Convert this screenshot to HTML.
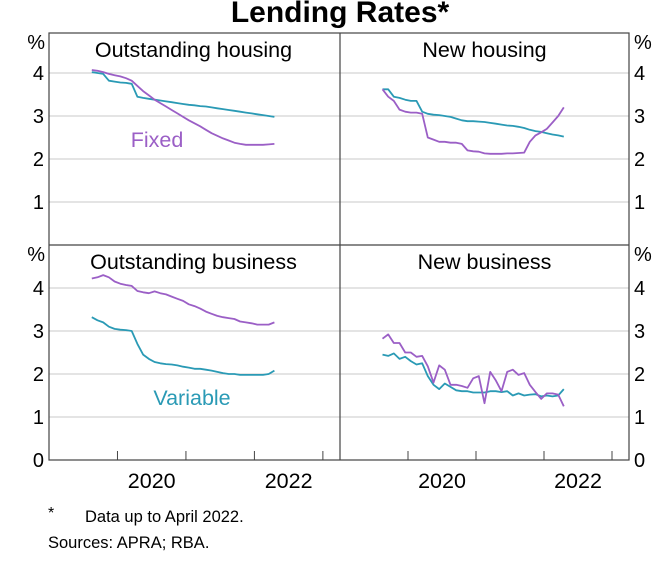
<!DOCTYPE html>
<html><head><meta charset="utf-8"><style>
body{margin:0;background:#fff;}
svg{display:block;font-family:"Liberation Sans",Arial,sans-serif;}
</style></head><body>
<svg id="chart" width="658" height="561" viewBox="0 0 658 561" xmlns="http://www.w3.org/2000/svg">
<text x="340" y="22" font-size="30" font-weight="bold" text-anchor="middle">Lending Rates*</text>
<g id="grid"></g>
<g id="series"></g>
<g id="frame"></g>
<text x="48" y="518" font-size="16">*</text>
<text x="85" y="522" font-size="16.5">Data up to April 2022.</text>
<text x="48" y="548" font-size="16.5">Sources: APRA; RBA.</text>
</svg>
<script>
const months = Array.from({length:33},(_,i)=>2019+7/12+i/12+1/24);
const ohFixed=[4.07,4.05,4.02,3.98,3.95,3.92,3.88,3.82,3.7,3.58,3.48,3.38,3.3,3.22,3.14,3.06,2.98,2.9,2.83,2.76,2.68,2.6,2.54,2.48,2.43,2.38,2.35,2.33,2.33,2.33,2.33,2.34,2.35];
const ohVar=[4.02,4.0,3.98,3.82,3.8,3.78,3.77,3.75,3.45,3.42,3.4,3.38,3.36,3.34,3.32,3.3,3.28,3.26,3.25,3.23,3.22,3.2,3.18,3.16,3.14,3.12,3.1,3.08,3.06,3.04,3.02,3.0,2.98];
const nhFixed=[3.62,3.45,3.35,3.15,3.1,3.08,3.08,3.05,2.5,2.45,2.4,2.4,2.38,2.38,2.35,2.2,2.18,2.17,2.13,2.12,2.12,2.12,2.13,2.13,2.14,2.15,2.4,2.55,2.62,2.7,2.85,3.0,3.2];
const nhVar=[3.62,3.62,3.45,3.42,3.38,3.35,3.35,3.1,3.05,3.03,3.02,3.0,2.98,2.94,2.9,2.88,2.88,2.87,2.86,2.84,2.82,2.8,2.78,2.77,2.75,2.72,2.68,2.65,2.63,2.6,2.57,2.55,2.52];
const obFixed=[4.22,4.25,4.3,4.25,4.15,4.1,4.07,4.05,3.93,3.9,3.88,3.92,3.88,3.85,3.8,3.75,3.7,3.62,3.58,3.52,3.45,3.4,3.35,3.32,3.3,3.28,3.22,3.2,3.18,3.15,3.15,3.15,3.2];
const obVar=[3.32,3.25,3.2,3.1,3.05,3.03,3.02,3.0,2.7,2.45,2.35,2.28,2.25,2.23,2.22,2.2,2.17,2.15,2.12,2.12,2.1,2.08,2.05,2.02,2.0,2.0,1.98,1.98,1.98,1.98,1.98,2.0,2.08];
const nbFixed=[2.82,2.92,2.72,2.72,2.5,2.5,2.4,2.42,2.18,1.8,2.2,2.1,1.75,1.75,1.72,1.68,1.9,1.95,1.32,2.05,1.85,1.6,2.05,2.1,1.98,2.02,1.75,1.58,1.42,1.55,1.55,1.52,1.25];
const nbVar=[2.45,2.42,2.48,2.35,2.4,2.3,2.22,2.25,1.95,1.75,1.65,1.78,1.7,1.62,1.6,1.6,1.57,1.57,1.57,1.6,1.6,1.58,1.6,1.5,1.55,1.5,1.52,1.53,1.48,1.5,1.48,1.5,1.65];
const yTicks=[0,1,2,3,4];
const xYearTicks=[2020,2021,2022,2023];
const xYearLabels=[2020,2022];

const NS="http://www.w3.org/2000/svg";
const PURPLE="#9b5fc6", TEAL="#2a9ab5";
function mk(parent,tag,attrs){const e=document.createElementNS(NS,tag);for(const k in attrs)e.setAttribute(k,attrs[k]);parent.appendChild(e);return e;}
const grid=document.getElementById('grid'),ser=document.getElementById('series'),frame=document.getElementById('frame');
const panels=[
 {name:'outstanding-housing',title:'Outstanding housing',x0:49,x1:340,y0:245,top:33,f:ohFixed,v:ohVar,left:true,right:false},
 {name:'new-housing',title:'New housing',x0:340,x1:629,y0:245,top:33,f:nhFixed,v:nhVar,left:false,right:true},
 {name:'outstanding-business',title:'Outstanding business',x0:49,x1:340,y0:460,top:245,f:obFixed,v:obVar,left:true,right:false},
 {name:'new-business',title:'New business',x0:340,x1:629,y0:460,top:245,f:nbFixed,v:nbVar,left:false,right:true}
];
const PX=43;
panels.forEach(p=>{
 const xs=t=>p.x0+(t-2019)*(p.x1-p.x0)/4.25;
 const ys=v=>p.y0-v*PX;
 yTicks.forEach(v=>{
  if(v>0){const g=mk(grid,'line',{x1:p.x0,x2:p.x1,y1:ys(v),y2:ys(v),stroke:'#c8c8c8','stroke-width':1});
   }
  const show = v>0 || p.y0===460;
  if(show && p.left){const t=mk(grid,'text',{x:44,y:ys(v)+7,'font-size':20,'text-anchor':'end'});t.textContent=v;
   }
  if(show && p.right){const t=mk(grid,'text',{x:634,y:ys(v)+7,'font-size':20});t.textContent=v;
   }
 });
 if(p.left){const t=mk(grid,'text',{x:45,y:p.top+16,'font-size':20,'text-anchor':'end'});t.textContent='%';
  }
 if(p.right){const t=mk(grid,'text',{x:634,y:p.top+16,'font-size':20});t.textContent='%';
  }
 const tt=mk(frame,'text',{x:(p.x0+p.x1)/2-(p.left?1:0),y:p.top+24,'font-size':21.5,'text-anchor':'middle'});tt.textContent=p.title;
 
 const line=(arr,col,nm)=>{const d=arr.map((v,i)=>(i?'L':'M')+xs(months[i]).toFixed(1)+','+ys(v).toFixed(1)).join('');
  const e=mk(ser,'path',{d:d,fill:'none',stroke:col,'stroke-width':1.8,'stroke-linejoin':'round'});
  };
 line(p.v,TEAL,p.name+'-variable-line');
 line(p.f,PURPLE,p.name+'-fixed-line');
 if(p.y0===460){
  xYearTicks.forEach(y=>{const e=mk(frame,'line',{x1:xs(y),x2:xs(y),y1:460,y2:451,stroke:'#444','stroke-width':1});
   });
  xYearLabels.forEach(y=>{const t=mk(frame,'text',{x:xs(y+0.5),y:488,'font-size':21.5,'text-anchor':'middle'});t.textContent=y;
   });
 }
});
const fr=mk(frame,'rect',{x:49,y:33,width:580,height:427,fill:'none',stroke:'#444','stroke-width':1.2});

const v=mk(frame,'line',{x1:340,x2:340,y1:33,y2:460,stroke:'#444','stroke-width':1.2});

const h=mk(frame,'line',{x1:49,x2:629,y1:245,y2:245,stroke:'#444','stroke-width':1.2});

const l1=mk(frame,'text',{x:157,y:147,'font-size':21.5,'text-anchor':'middle',fill:PURPLE});l1.textContent='Fixed';

const l2=mk(frame,'text',{x:192,y:405,'font-size':21.5,'text-anchor':'middle',fill:TEAL});l2.textContent='Variable';

</script>
</body></html>
